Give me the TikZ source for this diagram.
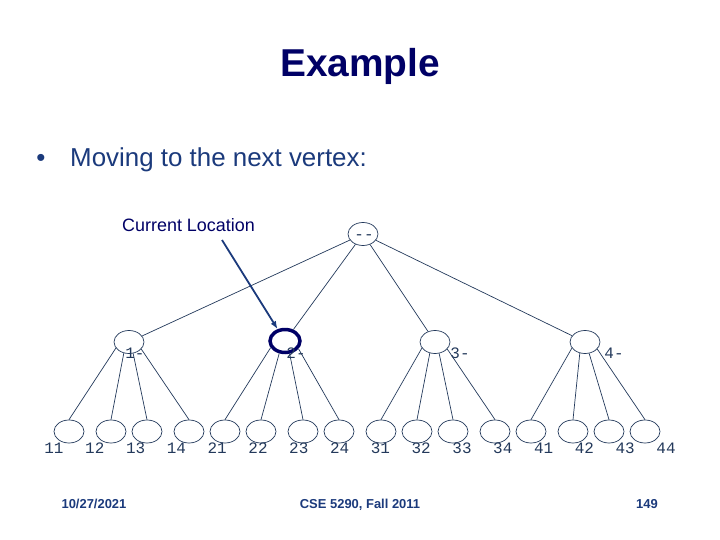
\documentclass[tikz,border=0pt]{standalone}
\usepackage{fontspec}
\setmainfont{Liberation Sans}
\setmonofont{Liberation Mono}
\usetikzlibrary{shapes.geometric, arrows.meta}

\begin{document}
\begin{tikzpicture}[
  x=1bp, y=-1bp,
  >={Latex[length=8pt,width=6pt]},
  vtx/.style={ellipse, draw=cEdge, line width=0.7pt,
              minimum width=30bp, minimum height=23bp, inner sep=0pt},
  here/.style={vtx, draw=cTitle, line width=3.5pt},
  link/.style={cEdge, line width=0.7pt},
  tag/.style={font=\ttfamily\fontsize{16}{16}\selectfont, text=cEdge,
              anchor=base, inner sep=0pt},
  slide/.style={text=cText, inner sep=0pt},
]
\definecolor{cTitle}{HTML}{000066}   % title / highlight
\definecolor{cText} {HTML}{1B3A7C}   % bullet and footer text
\definecolor{cEdge} {HTML}{23395B}   % tree lines and labels

\useasboundingbox (0,0) rectangle (720,540);
\fill[white] (0,0) rectangle (720,540);

% =====================================================================
% Slide text
% =====================================================================
\node[slide, text=cTitle, anchor=base, font=\bfseries\fontsize{39}{39}\selectfont]
  (title) at (360,77) {Example};
\node[slide, anchor=base, font=\fontsize{26}{26}\selectfont]
  (bullet) at (41,167) {\textbullet};
\node[slide, anchor=base west, font=\fontsize{26}{26}\selectfont]
  (point) at (70,167) {Moving to the next vertex:};
\node[slide, text=cTitle, anchor=base west, font=\fontsize{18}{18}\selectfont]
  (curLoc) at (122,232) {Current Location};

% =====================================================================
% Tree: root, four children, sixteen leaves
% =====================================================================
\node[vtx] (root) at (363,234) {};
\node[tag] at (364,240) {-{}-};

\node[vtx]  (n1) at (129,342) {};
\node[here] (n2) at (285,341) {};
\node[vtx]  (n3) at (435,342) {};
\node[vtx]  (n4) at (585,342) {};

\foreach \p/\tx in {1/135, 2/296, 3/460, 4/614} {
  \draw[link] (root) -- (n\p);
  \node[tag] (t\p) at (\tx,358) {\p-};
}

\foreach \name/\px in {11/69,  12/111, 13/147, 14/189,
                       21/225, 22/261, 23/303, 24/339,
                       31/381, 32/417, 33/453, 34/495,
                       41/531, 42/573, 43/609, 44/645} {
  \node[vtx] (l\name) at (\px,431.5) {};
}

% children fan out from the lower rim of each parent
\foreach \p in {1,...,4} {
  \foreach \c/\ang in {1/-155, 2/-115, 3/-70, 4/-30} {
    \draw[link] (n\p.\ang) -- (l\p\c.north);
  }
}

% leaf labels sit on an even grid
\foreach \name [count=\k from 0] in {11,12,13,14,21,22,23,24,31,32,33,34,41,42,43,44} {
  \node[tag] (t\name) at ({54+40.8*\k},453) {\name};
}

% =====================================================================
% Pointer to the current vertex
% =====================================================================
\coordinate (curTail) at (222,240);
\draw[->, cText, line width=1.8pt] (curTail) -- (n2);

% =====================================================================
% Footer
% =====================================================================
\node[slide, anchor=base, font=\bfseries\fontsize{13}{13}\selectfont]
  (date) at (94,508) {10/27/2021};
\node[slide, anchor=base, font=\bfseries\fontsize{13}{13}\selectfont]
  (course) at (360,508) {CSE 5290, Fall 2011};
\node[slide, anchor=base, font=\bfseries\fontsize{13}{13}\selectfont]
  (page) at (647,508) {149};

\end{tikzpicture}
\end{document}
